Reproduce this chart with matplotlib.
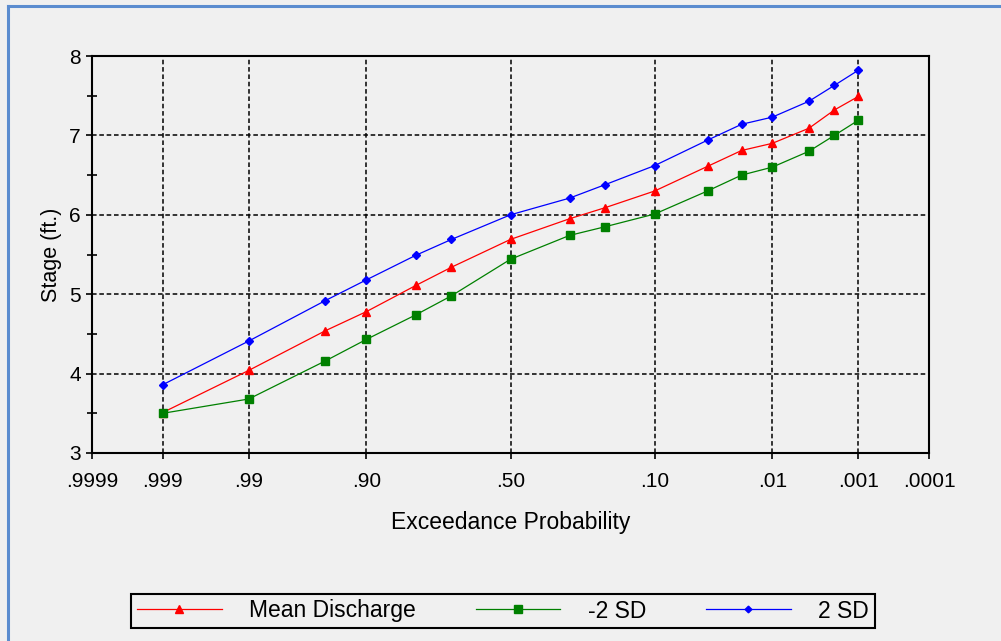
import numpy as np
import matplotlib
matplotlib.use("Agg")
import matplotlib.pyplot as plt
from matplotlib.lines import Line2D
from matplotlib.ticker import FixedLocator, NullLocator
from statistics import NormalDist

# exceedance probabilities of the frequency ordinates
probs = [0.999, 0.99, 0.95, 0.90, 0.80, 0.70, 0.50, 0.30, 0.20, 0.10,
         0.04, 0.02, 0.01, 0.004, 0.002, 0.001]

mean_stage = [3.51, 4.04, 4.54, 4.78, 5.11, 5.34, 5.69, 5.95, 6.09, 6.30,
              6.61, 6.81, 6.90, 7.09, 7.32, 7.49]
minus_2sd = [3.50, 3.68, 4.16, 4.43, 4.74, 4.98, 5.44, 5.74, 5.85, 6.01,
             6.30, 6.50, 6.60, 6.80, 7.00, 7.19]
plus_2sd = [3.86, 4.41, 4.92, 5.18, 5.49, 5.69, 6.00, 6.21, 6.38, 6.62,
            6.94, 7.14, 7.23, 7.43, 7.63, 7.82]

tick_probs = [0.9999, 0.999, 0.99, 0.90, 0.50, 0.10, 0.01, 0.001, 0.0001]
tick_labels = [".9999", ".999", ".99", ".90", ".50", ".10", ".01", ".001", ".0001"]

BG = "#f0f0f0"
nd = NormalDist()

# normal probability scale: z increases with probability, axis inverted below
_inv = np.vectorize(lambda v: nd.inv_cdf(v), otypes=[float])
_cdf = np.vectorize(lambda v: nd.cdf(v), otypes=[float])


def prob_to_z(p):
    p = np.clip(np.asarray(p, dtype=float), 1e-12, 1 - 1e-12)
    return _inv(p)


def z_to_prob(z):
    return _cdf(np.asarray(z, dtype=float))


plt.rcParams["font.family"] = ["Liberation Sans", "DejaVu Sans"]

fig = plt.figure(figsize=(10.01, 6.41), dpi=100, facecolor=BG)
ax = fig.add_axes([92 / 1001, 1 - 453 / 641, (929 - 92) / 1001, (453 - 56) / 641])
ax.set_facecolor(BG)
ax.set_xscale("function", functions=(prob_to_z, z_to_prob))

l1, = ax.plot(probs, mean_stage, color="#ff0000", lw=0.9, marker="^", ms=6,
              label="Mean Discharge", zorder=3)
l2, = ax.plot(probs, minus_2sd, color="#008000", lw=0.9, marker="s", ms=6,
              label="-2 SD", zorder=4)
l3, = ax.plot(probs, plus_2sd, color="#0000ff", lw=0.9, marker="D", ms=4,
              label="2 SD", zorder=5)

ax.set_xlim(0.9999, 0.0001)
ax.set_ylim(3, 8)
ax.xaxis.set_major_locator(FixedLocator(tick_probs))
ax.xaxis.set_minor_locator(NullLocator())
ax.set_xticklabels(tick_labels)
ax.set_yticks([3, 4, 5, 6, 7, 8])
ax.set_yticks(np.arange(3.5, 8, 1.0), minor=True)

ax.grid(True, which="major", color="black", lw=1.1, ls=(0, (3, 1.8)))
ax.tick_params(axis="both", which="major", direction="out", length=4,
               width=1.2, labelsize=15, pad=4)
ax.tick_params(axis="x", which="major", pad=10)
ax.tick_params(axis="y", which="minor", direction="inout", length=7, width=1.2)
for s in ax.spines.values():
    s.set_linewidth(1.5)

ax.set_xlabel("Exceedance Probability", fontsize=16.5, labelpad=14)
ax.set_ylabel("Stage (ft.)", fontsize=15.5, labelpad=5)

leg = fig.legend(handles=[l1, l2, l3], loc="center",
                 bbox_to_anchor=(503 / 1001, 1 - 611 / 641), ncol=3,
                 fontsize=16.5, numpoints=1, markerscale=0.85, handlelength=3.7,
                 handletextpad=1.2, columnspacing=2.6, fancybox=False,
                 facecolor=BG, edgecolor="black", framealpha=1,
                 borderpad=0.25, borderaxespad=0)
leg.get_frame().set_linewidth(1.5)

# outer window border (left and top edges visible)
fig.add_artist(Line2D([8 / 1001, 8 / 1001], [0, 1 - 6 / 641],
                      transform=fig.transFigure, color="#5b8ccf", lw=2.2))
fig.add_artist(Line2D([8 / 1001, 1], [1 - 6 / 641, 1 - 6 / 641],
                      transform=fig.transFigure, color="#5b8ccf", lw=2.2))

fig.savefig("out.png", dpi=100, facecolor=BG)
